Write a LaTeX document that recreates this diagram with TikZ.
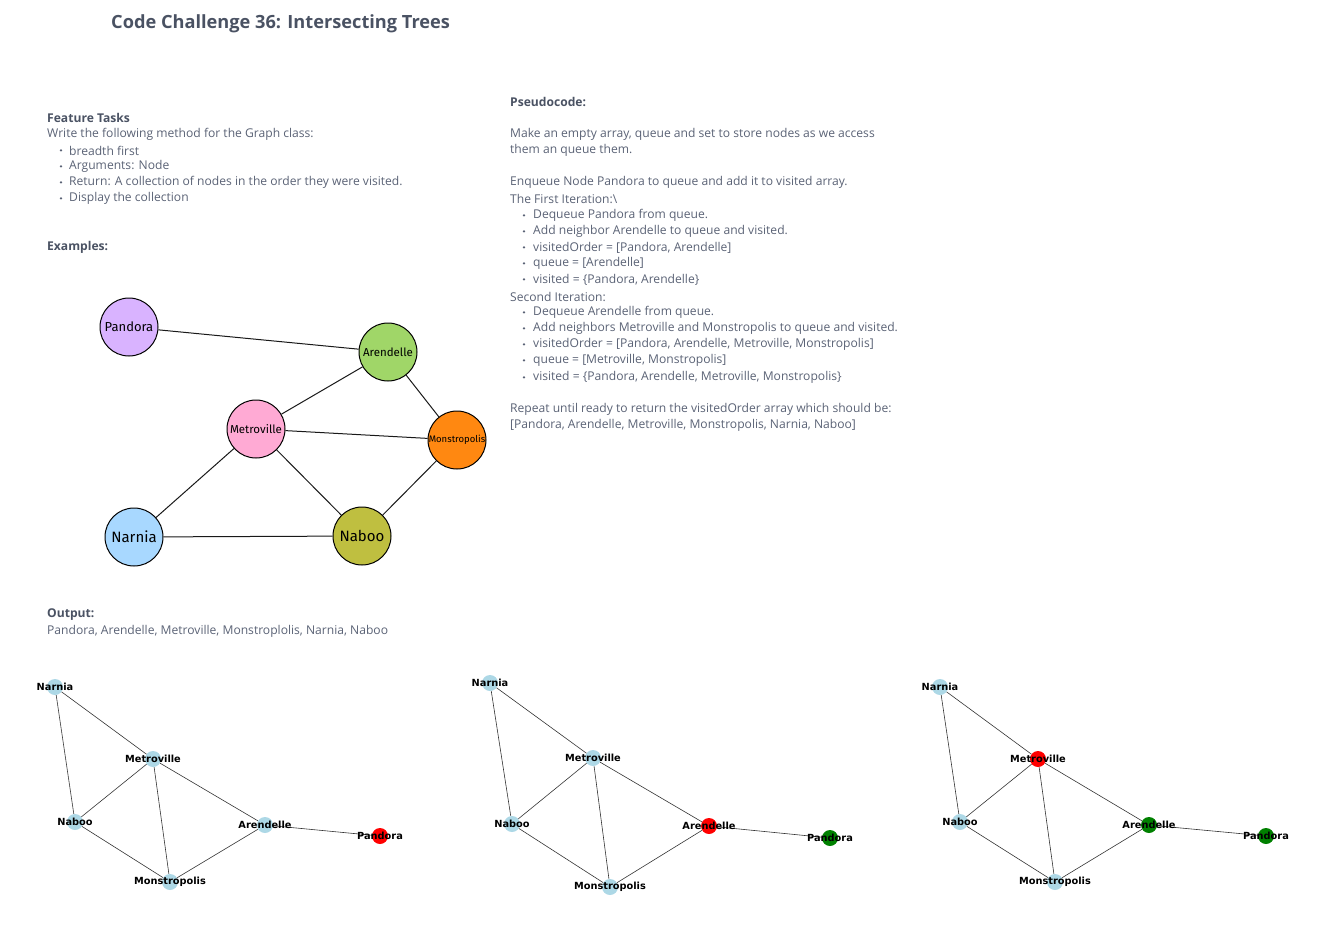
\documentclass[tikz,border=0pt]{standalone}
\usepackage{fontspec}
\setmainfont{Open Sans}
\newfontfamily\lblfont{DejaVu Sans}
\newfontfamily\handfont{Fira Sans}
\definecolor{txtc}{HTML}{5A6275}
\definecolor{headc}{HTML}{4A5263}
\definecolor{cpand}{HTML}{D9B3FF}
\definecolor{carend}{HTML}{A0D668}
\definecolor{cmetro}{HTML}{FFAAD4}
\definecolor{cmonst}{HTML}{FF8811}
\definecolor{cnarn}{HTML}{A8D8FF}
\definecolor{cnaboo}{HTML}{BFBF40}
\definecolor{lblue}{HTML}{ADD8E6}
\definecolor{dgreen}{HTML}{008000}
\tikzset{
  txt/.style={anchor=west, inner sep=0pt, yshift=-1.5pt, text=txtc, font=\fontsize{12.1}{14}\selectfont},
  head/.style={anchor=west, inner sep=0pt, yshift=-1.5pt, text=headc, font=\fontsize{12.1}{14}\selectfont\bfseries},
  bul/.style={circle, fill=txtc, inner sep=0pt, minimum size=2.6pt, yshift=-1.4pt},
  big/.style={circle, draw=black, line width=1pt, minimum size=58pt, inner sep=0pt},
  hf/.style={font=\handfont\fontsize{#1}{12}\selectfont},
  edge/.style={draw=black!90, line width=1pt},
  sm/.style={circle, minimum size=16pt, inner sep=0pt},
  lbl/.style={font=\lblfont\bfseries\fontsize{9.8}{11}\selectfont, text=black, inner sep=0pt},
  sedge/.style={draw=black!80, line width=0.6pt},
}
\begin{document}
\begin{tikzpicture}[x=1pt,y=-1pt]
\useasboundingbox (0,0) rectangle (1342,930);
% title
\node[anchor=west, inner sep=0pt, yshift=-2.5pt, text=headc, font=\fontsize{18.2}{21}\selectfont\bfseries] (title) at (111,21) {Code Challenge 36: Intersecting Trees};
% feature tasks
\node[head] (ft) at (47,116) {Feature Tasks};
\node[txt] (ft1) at (47,133) {Write the following method for the Graph class:};
\foreach \y/\t [count=\i] in {149/breadth first,165/Arguments: Node,181/Return: A collection of nodes in the order they were visited.,197/Display the collection}{
  \node[bul] (fb\i) at (61,\y) {};
  \node[txt] (ftb\i) at (69,\y) {\t};
}
\node[head] (ex) at (47,246) {Examples:};
% pseudocode
\node[head] (ps) at (510,100) {Pseudocode:};
\node[txt] (p1) at (510,133) {Make an empty array, queue and set to store nodes as we access};
\node[txt] (p2) at (510,149) {them an queue them.};
\node[txt] (p3) at (510,181) {Enqueue Node Pandora to queue and add it to visited array.};
\node[txt] (p4) at (510,197) {The First Iteration:\textbackslash};
\node[txt] (p5) at (510,295) {Second Iteration:};
\foreach \y/\t [count=\i] in {214/Dequeue Pandora from queue.,230/Add neighbor Arendelle to queue and visited.,246/{visitedOrder = [Pandora, Arendelle]},262/{queue = [Arendelle]},278/{visited = \{Pandora, Arendelle\}},311/Dequeue Arendelle from queue.,327/Add neighbors Metroville and Monstropolis to queue and visited.,343/{visitedOrder = [Pandora, Arendelle, Metroville, Monstropolis]},359/{queue = [Metroville, Monstropolis]},376/{visited = \{Pandora, Arendelle, Metroville, Monstropolis\}}}{
  \node[bul] (pb\i) at (524,\y) {};
  \node[txt] (pbt\i) at (533,\y) {\t};
}
\node[txt] (p6) at (510,408) {Repeat until ready to return the visitedOrder array which should be:};
\node[txt] (p7) at (510,424) {[Pandora, Arendelle, Metroville, Monstropolis, Narnia, Naboo]};
% output
\node[head] (out) at (47,613) {Output:};
\node[txt] (out1) at (47,630) {Pandora, Arendelle, Metroville, Monstroplolis, Narnia, Naboo};
% top graph
\node[big, fill=cpand, hf=13] (Pa) at (129,327) {Pandora};
\node[big, fill=carend, hf=11.5] (Ar) at (388,352) {Arendelle};
\node[big, fill=cmetro, hf=11.5] (Me) at (256,429) {Metroville};
\node[big, fill=cmonst, hf=9.5] (Mo) at (457,440) {Monstropolis};
\node[big, fill=cnarn, hf=15] (Na) at (134,537) {Narnia};
\node[big, fill=cnaboo, hf=15] (Nb) at (362,536) {Naboo};
\draw[edge] (Pa) -- (Ar);
\draw[edge] (Ar) -- (Me);
\draw[edge] (Ar) -- (Mo);
\draw[edge] (Me) -- (Mo);
\draw[edge] (Me) -- (Na);
\draw[edge] (Me) -- (Nb);
\draw[edge] (Mo) -- (Nb);
\draw[edge] (Na) -- (Nb);
% bottom graphs
\foreach \g/\nx/\ny/\mx/\my/\bx/\by/\ax/\ay/\px/\py/\sx/\sy/\cN/\cM/\cB/\cA/\cP/\cS in {
  a/55/687/153/759/75/822/265/825/380/836/170/882/lblue/lblue/lblue/lblue/red/lblue,
  b/490/683/593/758/512/824/709/826/830/838/610/887/lblue/lblue/lblue/red/dgreen/lblue,
  c/940/687/1038/759/960/822/1149/825/1266/836/1055/882/lblue/red/lblue/dgreen/dgreen/lblue}{
  \node[sm, fill=\cN] (\g N) at (\nx,\ny) {};
  \node[sm, fill=\cM] (\g M) at (\mx,\my) {};
  \node[sm, fill=\cB] (\g B) at (\bx,\by) {};
  \node[sm, fill=\cA] (\g A) at (\ax,\ay) {};
  \node[sm, fill=\cP] (\g P) at (\px,\py) {};
  \node[sm, fill=\cS] (\g S) at (\sx,\sy) {};
  \draw[sedge] (\g N) -- (\g M);
  \draw[sedge] (\g N) -- (\g B);
  \draw[sedge] (\g M) -- (\g B);
  \draw[sedge] (\g M) -- (\g S);
  \draw[sedge] (\g M) -- (\g A);
  \draw[sedge] (\g B) -- (\g S);
  \draw[sedge] (\g S) -- (\g A);
  \draw[sedge] (\g A) -- (\g P);
  \node[lbl] (\g Nl) at (\g N) {Narnia};
  \node[lbl] (\g Ml) at (\g M) {Metroville};
  \node[lbl] (\g Bl) at (\g B) {Naboo};
  \node[lbl] (\g Al) at (\g A) {Arendelle};
  \node[lbl] (\g Pl) at (\g P) {Pandora};
  \node[lbl] (\g Sl) at (\g S) {Monstropolis};
}
\end{tikzpicture}
\end{document}
